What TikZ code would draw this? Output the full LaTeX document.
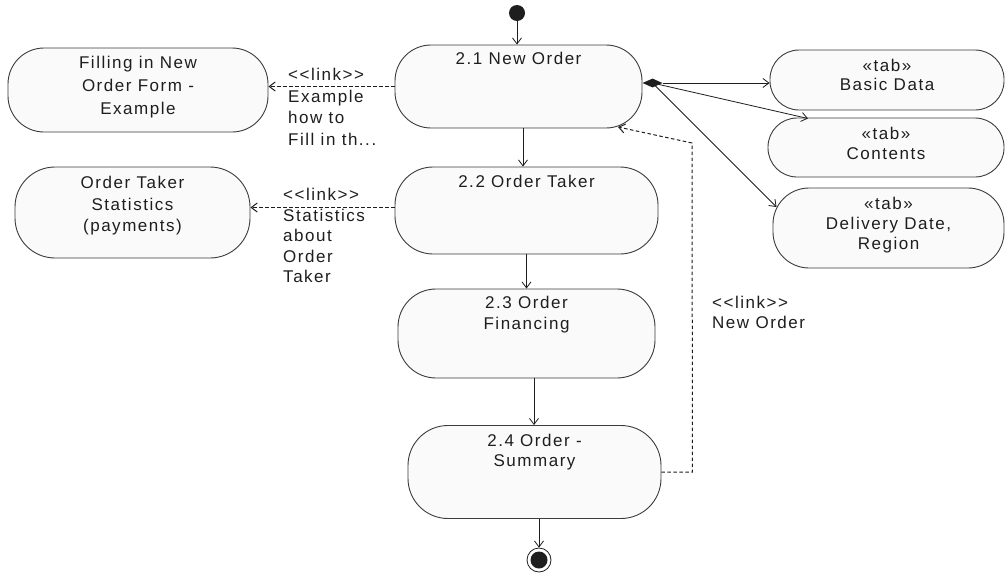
\documentclass[tikz,border=0pt]{standalone}
\usepackage{fontspec}
\newfontfamily\diagfont[LetterSpace=9,Ligatures=TeXOff]{Liberation Sans}
\usetikzlibrary{arrows.meta,shapes.geometric}
\definecolor{ink}{HTML}{1E1E1E}
\definecolor{boxline}{HTML}{3C3C3C}
\definecolor{boxfill}{HTML}{FAFAFA}
\begin{document}
\begin{tikzpicture}[x=1pt,y=-1pt,
  act/.style={draw=boxline, fill=boxfill, line width=0.9pt, rounded corners=36pt, inner sep=0pt},
  txt/.style={font=\diagfont\fontsize{17}{20}\selectfont, text=ink, align=center, inner sep=0pt, anchor=north},
  lbl/.style={font=\diagfont\fontsize{17}{20.5}\selectfont, text=ink, align=left, inner sep=0pt, anchor=north west},
  flow/.style={draw=ink, line width=0.8pt, -{Straight Barb[length=6pt,width=9pt]}},
  link/.style={flow, line width=1pt, dash pattern=on 3.5pt off 2.5pt}]
\useasboundingbox[fill=white] (0,0) rectangle (1006,573);

% pseudo states
\node[circle, fill=ink, minimum size=16pt, inner sep=0pt] (start) at (517,13) {};
\node[circle, draw=ink, line width=0.8pt, fill=white, minimum size=24pt, inner sep=0pt] (fin) at (539,560) {};
\fill[ink] (fin.center) circle (8.5pt);

% main activities
\node[act, minimum width=247pt, minimum height=83pt] (n1) at (518.5,86.5) {};
\node[txt] (n1t) at ([yshift=-7pt]n1.north) {2.1 New Order};
\node[act, rounded corners=38pt, minimum width=263pt, minimum height=87pt] (n2) at (526.5,210.5) {};
\node[txt] (n2t) at ([yshift=-8pt]n2.north) {2.2 Order Taker};
\node[act, rounded corners=38pt, minimum width=257pt, minimum height=89pt] (n3) at (526.5,333.5) {};
\node[txt, font=\diagfont\fontsize{17}{21}\selectfont] (n3t) at ([yshift=-7pt]n3.north) {2.3 Order\\Financing};
\node[act, rounded corners=40pt, minimum width=253pt, minimum height=93pt] (n4) at (534.5,472) {};
\node[txt] (n4t) at ([yshift=-9pt]n4.north) {2.4 Order -\\Summary};

% linked documents on the left
\node[act, minimum width=260pt, minimum height=84pt] (ex) at (138,90) {};
\node[txt, font=\diagfont\fontsize{17}{23}\selectfont] (ext) at (138,56) {Filling in New\\Order Form -\\Example};
\node[act, rounded corners=40pt, minimum width=235pt, minimum height=91pt] (st) at (132.5,212.5) {};
\node[txt, font=\diagfont\fontsize{17}{21.5}\selectfont] (stt) at (132.5,176) {Order Taker\\Statistics\\(payments)};

% tabs on the right
\node[act, rounded corners=29pt, minimum width=234pt, minimum height=60pt] (bd) at (887,80) {};
\node[txt, font=\diagfont\fontsize{17}{18.5}\selectfont] (bdt) at (887,59) {«tab»\\Basic Data};
\node[act, rounded corners=29pt, minimum width=236pt, minimum height=59pt] (ct) at (886,147.5) {};
\node[txt] (ctt) at (886,127) {«tab»\\Contents};
\node[act, minimum width=231pt, minimum height=80pt] (dd) at (888.5,228) {};
\node[txt] (ddt) at (888.5,197) {«tab»\\Delivery Date,\\Region};

% control flow
\draw[flow] (start) -- (start |- n1.north);
\coordinate (a12) at ([xshift=4.5pt]n1.south);
\draw[flow] (a12) -- (a12 |- n2.north);
\draw[flow] (n2.south) -- (n2.south |- n3.north);
\coordinate (a34) at ([xshift=7.5pt]n3.south);
\draw[flow] (a34) -- (a34 |- n4.north);
\draw[flow] (fin |- n4.south) -- (fin.north);

% links to documents
\draw[link] (n1.west) -- (n1.west -| ex.east);
\node[lbl, font=\diagfont\fontsize{17}{21.5}\selectfont] (l1) at (288,68) {<<link>>\\Example\\how to\\Fill in th...};
\coordinate (n2w) at ([yshift=3pt]n2.west);
\draw[link] (n2w) -- (n2w -| st.east);
\node[lbl] (l2) at (283,188) {<<link>>\\Statistics\\about\\Order\\Taker};

% link from the summary back to the new order
\coordinate (bk0) at ([xshift=31pt]n4.east);
\coordinate (bk1) at (692,143);
\coordinate (n1in) at (618,127);
\draw[link] (n4.east) -- (bk0) -- (bk1) -- (n1in);
\node[lbl, font=\diagfont\fontsize{17}{19.5}\selectfont] (l3) at (712,296) {<<link>>\\New Order};

% composition of the tabs
\node[diamond, fill=ink, minimum width=20pt, minimum height=9pt, inner sep=0pt] (dia) at (652.5,83) {};
\coordinate (bdin) at (dia.east -| bd.west);
\coordinate (ctin) at (808,118.5);
\coordinate (ddin) at (776.5,207);
\draw[flow] (dia.east) -- (bdin);
\draw[flow] (dia.center) -- (ctin);
\draw[flow] (dia.center) -- (ddin);
\end{tikzpicture}
\end{document}
